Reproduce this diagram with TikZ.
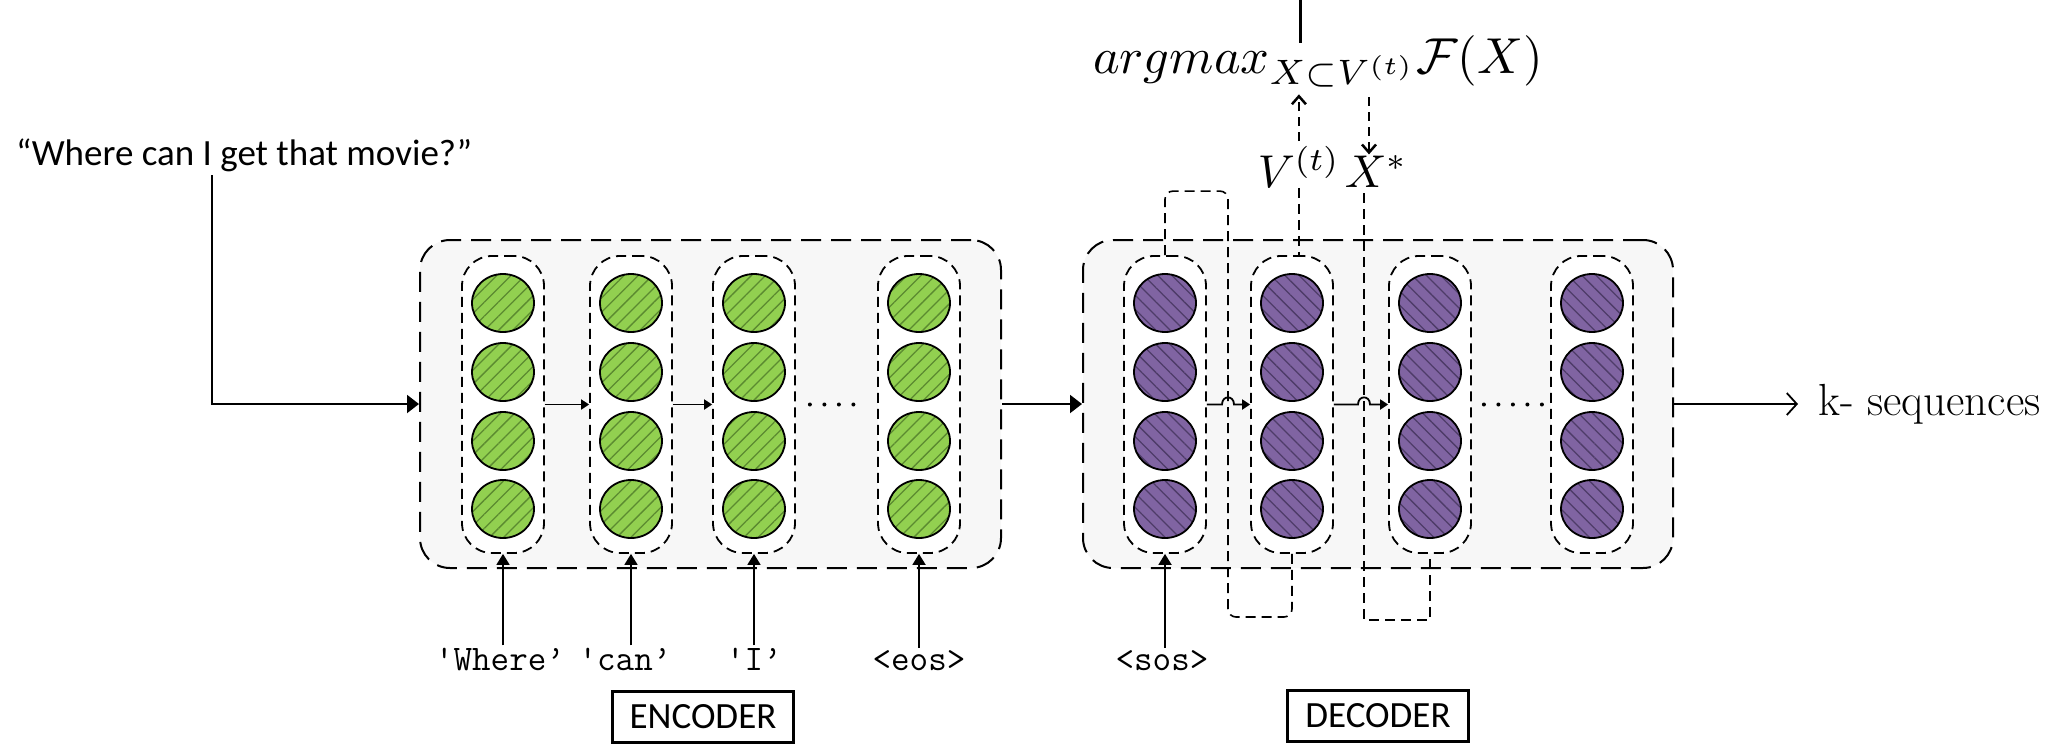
\documentclass[tikz,border=0pt]{standalone}
\usepackage{fontspec}
\newfontfamily\calib{Carlito}
\usetikzlibrary{shapes.geometric,patterns.meta,arrows.meta,calc}
\definecolor{gfill}{HTML}{92D050}
\definecolor{ghatch}{HTML}{5B8A30}
\definecolor{pfill}{HTML}{8064A2}
\definecolor{phatch}{HTML}{4E3C68}
\definecolor{boxfill}{HTML}{F7F7F7}
\begin{document}
\begin{tikzpicture}[x=1pt,y=-1pt,
  outerbox/.style={draw, line width=2pt, dash pattern=on 20pt off 10pt, rounded corners=30pt, fill=boxfill, minimum width=#1, minimum height=328pt, inner sep=0pt},
  column/.style={draw, line width=1.8pt, dash pattern=on 10pt off 6pt, rounded corners=30pt, fill=white, minimum width=82pt, minimum height=297pt, inner sep=0pt},
  cell/.style={ellipse, draw, line width=1.8pt, minimum width=62pt, minimum height=58pt, inner sep=0pt},
  gcell/.style={cell, preaction={fill=gfill}, pattern={Lines[angle=45,distance=10pt,line width=1.3pt]}, pattern color=ghatch},
  pcell/.style={cell, preaction={fill=pfill}, pattern={Lines[angle=-45,distance=10pt,line width=1.3pt]}, pattern color=phatch},
  arr/.style={line width=1.8pt, -{Triangle[length=11pt,width=13pt]}},
  smallarr/.style={line width=1.8pt, -{Triangle[length=8pt,width=10pt]}},
  bigarr/.style={line width=2pt, -{Triangle[length=12pt,width=18pt]}},
  dotline/.style={line width=4pt, line cap=round, dash pattern=on 0pt off 14.5pt},
  loopline/.style={line width=1.6pt, dash pattern=on 10pt off 6pt},
  darr/.style={line width=2.5pt, dash pattern=on 9pt off 6pt, -{Straight Barb[length=8pt,width=14pt]}},
  mono/.style={font={\ttfamily\fontsize{36}{40}\selectfont}, inner sep=2pt, anchor=base},
  labelbox/.style={draw, line width=3pt, minimum width=181pt, minimum height=51pt, inner sep=0pt, font={\calib\fontsize{37}{42}\selectfont}}
]
\useasboundingbox (0,0) rectangle (2070,744);

% quote
\node[anchor=base west, inner sep=0pt, font={\calib\fontsize{37}{44}\selectfont}] (q) at (16,165) {“Where can I get that movie?”};

% outer boxes
\node[outerbox=581pt] (enc) at (710.5,404) {};
\node[outerbox=590pt] (dec) at (1378,404) {};

% encoder columns
\foreach \n/\x in {1/503,2/631,3/754,4/919}{
  \node[column] (e\n) at (\x,404.5) {};
  \foreach \m/\y in {1/303,2/372,3/441,4/509}{
    \node[gcell] (e\n c\m) at (\x,\y) {};
  }
}
% decoder columns
\foreach \n/\x in {1/1165,2/1292,3/1430,4/1592}{
  \node[column] (d\n) at (\x,404.5) {};
  \foreach \m/\y in {1/303,2/372,3/441,4/509}{
    \node[pcell] (d\n c\m) at (\x,\y) {};
  }
}

% quote into encoder
\coordinate (qd) at (212,175);
\draw[bigarr] (qd) |- (enc.west);

% encoder recurrences
\draw[smallarr] (e1.east) -- (e2.west);
\draw[smallarr] (e2.east) -- (e3.west);
\draw[dotline] ($(e3.east)+(14,0)$) -- ($(e4.west)+(-10,0)$);

% encoder -> decoder
\draw[bigarr] (enc.east) -- (dec.west);

% decoder output
\node[anchor=west, inner xsep=20pt, inner ysep=0pt, font=\fontsize{45}{50}\selectfont] (ks) at (1798,404) {k- sequences};
\draw[line width=1.8pt, -{Straight Barb[length=10pt,width=22pt]}] (dec.east) -- (ks.west);

% formula and labels
\coordinate (topa) at (1300,0);
\coordinate (topb) at (1300,43);
\draw[line width=3pt] (topa) -- (topb);
\node[anchor=base west, inner sep=0pt, scale=5.05] (fm) at (1092,73) {$argmax_{X\subset V^{(t)}}\mathcal{F}(X)$};
\node[anchor=base west, inner sep=0pt, scale=4.6] (vt) at (1257,187) {$V^{(t)}$};
\node[anchor=base west, inner sep=0pt, scale=4.6] (xs) at (1344,187) {$X^*$};
\draw[darr] ($(vt.north)+(0,-4)$) -- ($(vt.north |- fm.south)+(0,6)$);
\coordinate (xa) at (1369,97);
\draw[darr] (xa) -- (xa |- xs.north);

% decoder feedback loops
\draw[loopline] (vt.south) -- (vt.south |- d2.north);
\coordinate (la) at (1228,617);
\draw[loopline, rounded corners=8pt] (d1.north) -- ++(0,-64) -| (la) -| (d2.south);
\coordinate (xb) at (1364,193);
\coordinate (xbot) at (1364,620);
\draw[loopline] (xb) -- (xbot) -| (d3.south);

% decoder recurrences with hops
\draw[smallarr] (d1.east) -- (1222,404.5) .. controls (1222,395) and (1234,395) .. (1234,404.5) -- (d2.west);
\draw[smallarr] (d2.east) -- (1358,404.5) .. controls (1358,395) and (1370,395) .. (1370,404.5) -- (d3.west);
\draw[dotline] ($(d3.east)+(12,0)$) -- ($(d4.west)+(-8,0)$);

% token inputs
\node[mono] (w1) at (500,670) {\textquotesingle Where’};
\node[mono] (w2) at (625,670) {\textquotesingle can’};
\node[mono] (w3) at (754,670) {\textquotesingle I’};
\node[mono] (w4) at (919,670) {<eos>};
\node[mono] (w5) at (1162,670) {<sos>};
\draw[arr] (w1.north -| e1.south) -- (e1.south);
\draw[arr] (w2.north -| e2.south) -- (e2.south);
\draw[arr] (w3.north -| e3.south) -- (e3.south);
\draw[arr] (w4.north -| e4.south) -- (e4.south);
\draw[arr] (w5.north -| d1.south) -- (d1.south);

% section labels
\node[labelbox] (encl) at (703,717) {ENCODER};
\node[labelbox] (decl) at (1378,716) {DECODER};
\end{tikzpicture}
\end{document}
